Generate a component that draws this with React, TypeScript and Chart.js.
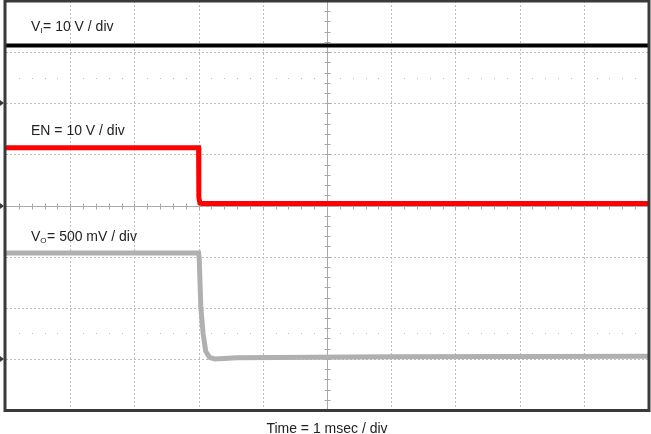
import React, { useEffect, useRef } from "react";
import { Chart, registerables } from "chart.js";

Chart.register(...registerables);

// Time axis in divisions (1 msec / div), 10 divisions
const xDivisions = [0, 10];
// Vertical graticule: 8 divisions, centre = 0
const yDivisions = [-4, 4];

// Vi trace (10 V / div)
const viTime = [0, 10];
const viLevel = [3.13, 3.13];

// EN trace (10 V / div)
const enTime = [0, 3.0, 3.004, 3.02, 3.05, 10];
const enLevel = [1.13, 1.13, 0.15, 0.05, 0.04, 0.04];

// Vo trace (500 mV / div)
const voTime = [0, 3.0, 3.01, 3.035, 3.07, 3.11, 3.17, 3.25, 3.6, 6, 10];
const voLevel = [-0.93, -0.93, -1.05, -2.0, -2.5, -2.85, -2.97, -3.0, -2.98, -2.96, -2.95];

// Channel ground markers (divisions)
const groundMarkers = [2, 0, -3];

const labelVi = { main: "V", sub: "I", rest: "= 10 V / div", y: 3.41 };
const labelEn = { main: "EN = 10 V / div", sub: "", rest: "", y: 1.38 };
const labelVo = { main: "V", sub: "O", rest: "= 500 mV / div", y: -0.69 };
const xTitle = "Time = 1 msec / div";

const FONT = '"Liberation Sans", Arial, sans-serif';

const toPoints = (xs: number[], ys: number[]) => xs.map((x, i) => ({ x, y: ys[i] }));

const scopePlugin = {
  id: "scope",
  beforeDatasetsDraw(chart: any) {
    const { ctx, chartArea, scales } = chart;
    const xs = scales.x;
    const ys = scales.y;
    ctx.save();
    ctx.fillStyle = "#ffffff";
    ctx.fillRect(chartArea.left, chartArea.top, chartArea.right - chartArea.left, chartArea.bottom - chartArea.top);
    // dotted grid
    ctx.strokeStyle = "#bdbdbd";
    ctx.lineWidth = 1;
    ctx.setLineDash([2, 2]);
    for (let i = 1; i < 10; i++) {
      if (i === 5) continue;
      const px = Math.round(xs.getPixelForValue(i)) + 0.5;
      ctx.beginPath();
      ctx.moveTo(px, chartArea.top);
      ctx.lineTo(px, chartArea.bottom);
      ctx.stroke();
    }
    for (let j = -3; j <= 3; j++) {
      if (j === 0) continue;
      const py = Math.round(ys.getPixelForValue(j)) + 0.5;
      ctx.beginPath();
      ctx.moveTo(chartArea.left, py);
      ctx.lineTo(chartArea.right, py);
      ctx.stroke();
    }
    ctx.setLineDash([]);
    // centre axes with minor ticks
    ctx.strokeStyle = "#a8a8a8";
    const cx = Math.round(xs.getPixelForValue(5)) + 0.5;
    const cy = Math.round(ys.getPixelForValue(0)) + 0.5;
    ctx.beginPath();
    ctx.moveTo(cx, chartArea.top);
    ctx.lineTo(cx, chartArea.bottom);
    ctx.moveTo(chartArea.left, cy);
    ctx.lineTo(chartArea.right, cy);
    ctx.stroke();
    ctx.beginPath();
    for (let t = 0.2; t < 10; t += 0.2) {
      const px = Math.round(xs.getPixelForValue(t)) + 0.5;
      ctx.moveTo(px, cy - 3);
      ctx.lineTo(px, cy + 3);
    }
    for (let t = -3.8; t < 4; t += 0.2) {
      const py = Math.round(ys.getPixelForValue(t)) + 0.5;
      ctx.moveTo(cx - 3, py);
      ctx.lineTo(cx + 3, py);
    }
    ctx.stroke();
    // dot rows
    ctx.fillStyle = "#bdbdbd";
    [2.5, -2.5].forEach((d) => {
      const py = Math.round(ys.getPixelForValue(d));
      for (let t = 0.2; t < 10; t += 0.2) {
        const px = Math.round(xs.getPixelForValue(t));
        ctx.fillRect(px, py, 1, 1);
      }
    });
    ctx.restore();
  },
  afterDraw(chart: any) {
    const { ctx, chartArea, scales } = chart;
    const ys = scales.y;
    ctx.save();
    // frame
    ctx.strokeStyle = "#3a3a3a";
    ctx.lineWidth = 3;
    ctx.strokeRect(chartArea.left - 1, chartArea.top, chartArea.right - chartArea.left + 2, chartArea.bottom - chartArea.top + 0.5);
    // ground markers
    ctx.fillStyle = "#3a3a3a";
    groundMarkers.forEach((g) => {
      const py = Math.round(ys.getPixelForValue(g));
      ctx.beginPath();
      ctx.moveTo(0, py - 3);
      ctx.lineTo(4, py);
      ctx.lineTo(0, py + 3);
      ctx.closePath();
      ctx.fill();
    });
    // labels
    ctx.fillStyle = "#222222";
    ctx.textBaseline = "alphabetic";
    [labelVi, labelEn, labelVo].forEach((lb) => {
      const py = ys.getPixelForValue(lb.y);
      let px = 31;
      ctx.font = `14px ${FONT}`;
      ctx.fillText(lb.main, px, py);
      px += ctx.measureText(lb.main).width;
      if (lb.sub) {
        ctx.font = `8px ${FONT}`;
        ctx.fillText(lb.sub, px, py + 2);
        px += ctx.measureText(lb.sub).width + 0.5;
        ctx.font = `14px ${FONT}`;
        ctx.fillText(lb.rest, px, py);
      }
    });
    ctx.font = `14px ${FONT}`;
    ctx.textAlign = "center";
    ctx.fillText(xTitle, (chartArea.left + chartArea.right) / 2, 433);
    ctx.restore();
  },
};

export default function App() {
  const ref = useRef<HTMLCanvasElement | null>(null);
  useEffect(() => {
    document.body.style.margin = "0";
    const canvas = ref.current;
    if (!canvas) return;
    const chart = new Chart(canvas, {
      type: "line",
      data: {
        datasets: [
          {
            label: "Vo",
            data: toPoints(voTime, voLevel),
            borderColor: "#b0b0b0",
            borderWidth: 5,
            pointRadius: 0,
            tension: 0,
            order: 3,
          },
          {
            label: "EN",
            data: toPoints(enTime, enLevel),
            borderColor: "#ff0000",
            borderWidth: 5,
            pointRadius: 0,
            tension: 0,
            order: 2,
          },
          {
            label: "Vi",
            data: toPoints(viTime, viLevel),
            borderColor: "#000000",
            borderWidth: 4,
            pointRadius: 0,
            tension: 0,
            order: 1,
          },
        ],
      },
      options: {
        responsive: false,
        animation: false,
        devicePixelRatio: 1,
        layout: { padding: { left: 6, right: 3, top: 1, bottom: 24 } },
        plugins: { legend: { display: false }, tooltip: { enabled: false } },
        scales: {
          x: { type: "linear", min: xDivisions[0], max: xDivisions[1], display: false },
          y: { type: "linear", min: yDivisions[0], max: yDivisions[1], display: false },
        },
      },
      plugins: [scopePlugin],
    });
    return () => chart.destroy();
  }, []);
  return <canvas ref={ref} width={651} height={434} style={{ display: "block" }} />;
}
